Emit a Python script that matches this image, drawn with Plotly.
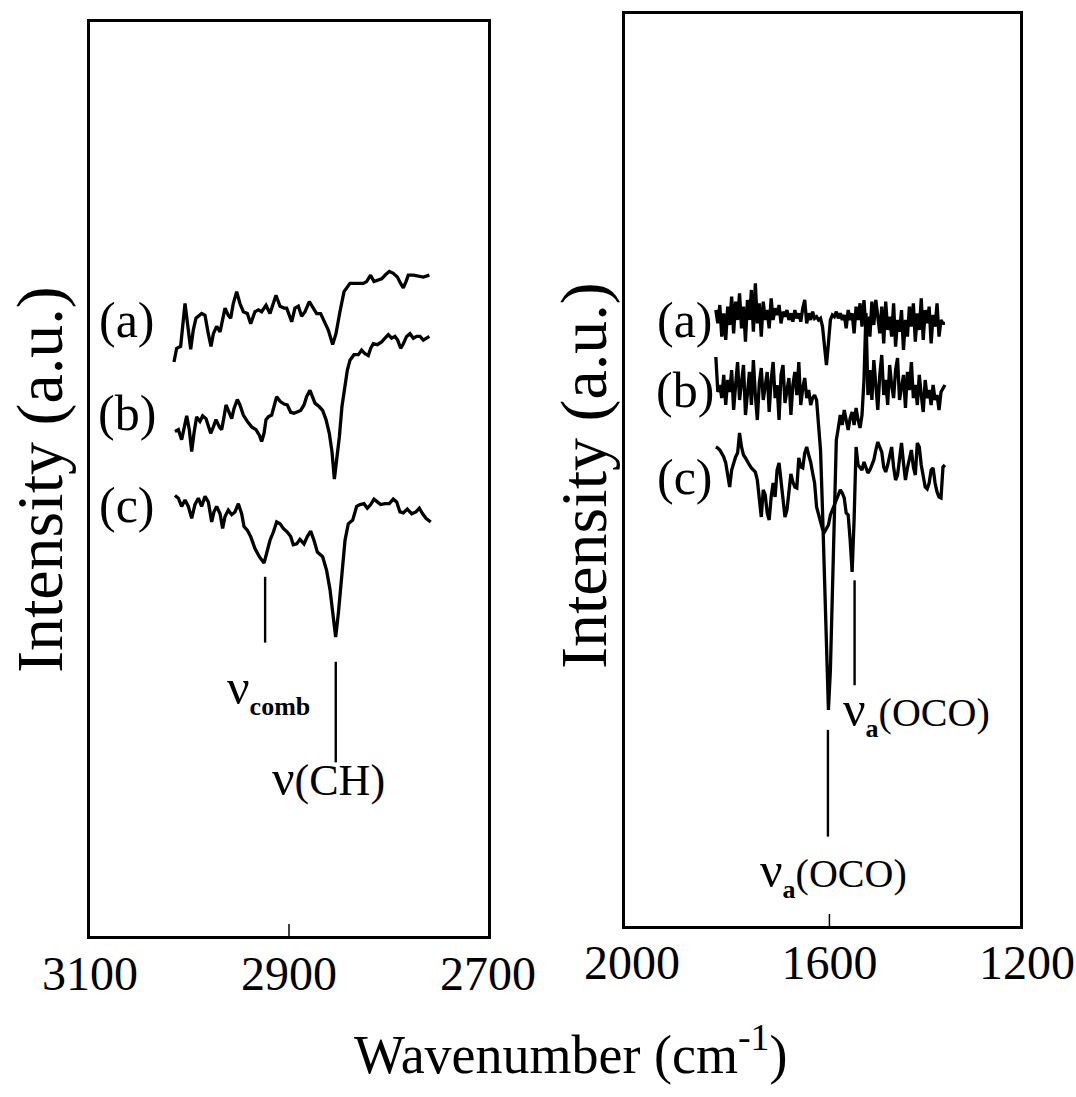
import plotly.graph_objects as go

# ---------------- data ----------------
# Left panel: C-H stretching region, wavenumber (cm-1) vs intensity (a.u.)
wn_left_a = [3015.6, 3012.9, 3008.9, 3004.5, 3001.2, 2998.8, 2996.2, 2993.5, 2987.8, 2984.4,
             2981.1, 2978.4, 2976.0, 2972.7, 2969.3, 2964.3, 2961.0, 2958.6, 2956.0, 2952.6,
             2949.3, 2945.9, 2941.9, 2938.5, 2934.2, 2930.8, 2927.5, 2923.1, 2919.1, 2915.7,
             2913.1, 2909.0, 2905.0, 2902.3, 2897.3, 2894.0, 2890.6, 2887.3, 2883.9, 2879.6,
             2875.5, 2872.2, 2868.2, 2863.8, 2860.5, 2856.1, 2852.8, 2848.8, 2844.7, 2838.7,
             2832.0, 2825.3, 2822.0, 2818.0, 2814.6, 2810.2, 2806.9, 2802.5, 2799.2, 2795.2,
             2791.1, 2787.8, 2785.1, 2782.4, 2780.1, 2775.0, 2770.0, 2765.0, 2758.9]
int_left_a = [62.8, 64.3, 64.5, 69.2, 66.3, 64.2, 66.3, 67.6, 68.1, 67.9,
              65.9, 64.5, 65.9, 66.7, 66.1, 68.7, 67.9, 67.6, 69.2, 70.5,
              69.2, 68.3, 68.1, 67.0, 68.3, 68.5, 68.3, 69.0, 68.1, 69.2,
              70.1, 68.9, 68.7, 68.7, 67.2, 68.7, 68.9, 67.8, 68.3, 69.4,
              68.7, 68.1, 68.1, 67.0, 66.3, 64.7, 65.9, 68.3, 70.5, 71.4,
              71.4, 71.4, 71.6, 72.3, 71.6, 71.8, 71.9, 72.4, 72.7, 72.5,
              72.1, 71.4, 70.9, 71.6, 72.3, 72.3, 72.2, 72.1, 72.3]

wn_left_b = [3014.6, 3011.2, 3007.9, 3005.5, 3002.8, 3000.2, 2997.8, 2995.5, 2992.8, 2989.5,
             2986.8, 2983.4, 2981.1, 2978.7, 2976.0, 2973.4, 2970.0, 2967.7, 2965.3, 2963.3,
             2960.6, 2957.6, 2955.3, 2951.9, 2949.3, 2945.9, 2941.9, 2937.5, 2933.2, 2929.8,
             2927.5, 2925.1, 2923.1, 2920.8, 2917.4, 2915.1, 2912.4, 2909.0, 2905.0, 2901.7,
             2898.3, 2895.0, 2891.6, 2888.3, 2884.9, 2882.3, 2878.9, 2876.2, 2873.9, 2869.5,
             2866.2, 2862.8, 2859.5, 2856.8, 2854.4, 2852.1, 2849.4, 2846.8, 2844.4,
             2841.4, 2838.7, 2834.7, 2830.3, 2827.0, 2823.6, 2820.3, 2817.9, 2815.3, 2811.2,
             2806.9, 2803.5, 2800.2, 2796.8, 2793.5, 2790.8, 2787.8, 2785.1, 2781.8, 2778.4,
             2775.0, 2771.7, 2768.3, 2765.0, 2761.6, 2758.9]
int_left_b = [55.2, 55.4, 54.3, 55.4, 56.9, 55.4, 53.0, 55.0, 56.8, 56.3,
              56.9, 56.6, 55.9, 55.0, 55.7, 56.5, 55.7, 55.4, 56.8, 58.1,
              57.4, 56.6, 57.7, 58.7, 58.1, 57.0, 56.3, 55.7, 55.4, 54.8,
              54.1, 55.0, 56.5, 56.8, 57.0, 57.9, 59.0, 58.5, 58.2, 58.1,
              57.3, 57.2, 57.4, 57.5, 58.1, 59.0, 59.7, 59.0, 58.3, 57.9,
              57.5, 56.5, 55.0, 53.0, 50.0, 52.1, 54.6, 57.9, 59.7,
              61.9, 63.0, 63.6, 63.6, 64.1, 63.7, 63.5, 64.3, 64.8, 64.7,
              65.0, 65.4, 65.8, 65.4, 65.6, 65.2, 64.3, 64.8, 65.6, 65.9,
              65.4, 65.6, 65.6, 65.2, 65.4, 65.6]

wn_left_c = [3014.6, 3011.2, 3007.9, 3004.5, 3001.2, 2997.8, 2994.5, 2991.1, 2987.8, 2984.4,
             2981.1, 2977.7, 2975.4, 2972.7, 2969.3, 2966.7, 2964.3, 2961.0, 2957.6, 2954.3,
             2950.9, 2947.6, 2945.2, 2941.9, 2938.5, 2934.2, 2929.8, 2925.1, 2922.4, 2919.1,
             2915.7, 2912.4, 2909.0, 2905.7, 2901.7, 2898.3, 2895.7, 2892.3, 2889.0, 2884.9,
             2881.6, 2878.2, 2874.9, 2871.5, 2866.2, 2862.2, 2858.8, 2856.1, 2853.1, 2850.4,
             2847.1, 2843.7, 2840.4, 2836.0, 2832.0, 2828.6, 2824.6, 2821.3, 2817.9, 2814.6,
             2811.2, 2807.9, 2803.5, 2799.2, 2795.2, 2791.8, 2788.5, 2785.1, 2781.1, 2776.7,
             2772.4, 2769.0, 2765.7, 2762.3, 2757.6]
int_left_c = [48.2, 47.9, 47.0, 47.7, 47.0, 45.7, 47.2, 47.9, 47.0, 48.1,
              47.5, 45.3, 46.4, 47.0, 46.2, 44.6, 45.9, 46.6, 46.1, 46.4,
              47.3, 46.2, 44.8, 44.4, 43.7, 42.4, 41.5, 40.8, 41.9, 43.3,
              44.2, 45.3, 45.1, 44.6, 44.2, 43.7, 42.8, 42.9, 43.4, 42.9,
              43.7, 44.3, 43.3, 42.0, 41.5, 40.0, 37.9, 35.3, 32.7, 35.3,
              39.7, 43.3, 45.1, 45.5, 47.0, 47.2, 47.3, 46.8, 47.2, 47.8,
              47.5, 47.2, 47.3, 47.3, 47.8, 47.5, 46.4, 46.3, 46.7, 46.2,
              46.4, 46.8, 46.2, 45.7, 45.3]

# Right panel: carboxylate region, common wavenumber grid (cm-1)
wn_right = [1830, 1826, 1822, 1818, 1814, 1810, 1806, 1802, 1798, 1794, 1790, 1786, 1782, 1778,
            1774, 1770, 1766, 1762, 1758, 1754, 1750, 1746, 1742, 1738, 1734, 1730, 1726, 1722,
            1718, 1714, 1710, 1706, 1702, 1698, 1694, 1690, 1686, 1682, 1678, 1674, 1670, 1666,
            1662, 1658, 1654, 1650, 1646, 1642, 1638, 1634, 1630, 1626, 1622, 1618, 1614, 1610,
            1606, 1602, 1598, 1594, 1590, 1586, 1582, 1578, 1574, 1570, 1566, 1562, 1558, 1554,
            1550, 1546, 1542, 1538, 1534, 1530, 1526, 1522, 1518, 1514, 1510, 1506, 1502, 1498,
            1494, 1490, 1486, 1482, 1478, 1474, 1470, 1466, 1462, 1458, 1454, 1450, 1446, 1442,
            1438, 1434, 1430, 1426, 1422, 1418, 1414, 1410, 1406, 1402, 1398, 1394, 1390, 1386,
            1382, 1378, 1374, 1370, 1366]
int_right_a = [67.54, 66.08, 68.09, 64.62, 67.18, 64.26, 67.91, 65.90, 69.01, 64.99,
               68.46, 66.45, 69.37, 65.53, 67.91, 64.07, 68.64, 66.45, 69.74, 65.17,
               70.47, 66.08, 68.28, 64.62, 68.46, 66.45, 67.54, 65.53, 68.82, 66.45,
               67.73, 67.00, 68.09, 66.08, 67.36, 66.81, 67.54, 66.45, 67.18, 66.26,
               67.54, 66.63, 67.18, 66.26, 67.73, 68.64, 66.08, 67.18, 66.45, 67.36,
               66.63, 66.81, 66.45, 66.63, 65.72, 63.52, 61.51, 63.89, 66.45, 67.00,
               66.81, 67.36, 66.63, 67.18, 66.45, 67.00, 65.53, 67.54, 66.45, 67.18,
               64.99, 67.91, 66.45, 68.28, 65.72, 68.64, 65.35, 66.81, 64.62, 68.46,
               65.90, 68.64, 66.81, 64.99, 67.91, 63.89, 68.46, 65.35, 66.81, 64.62,
               68.28, 63.52, 66.45, 65.17, 67.54, 63.16, 66.45, 64.62, 67.91, 65.72,
               68.28, 64.07, 67.18, 65.35, 68.82, 64.26, 67.54, 66.08, 67.91, 63.89,
               67.00, 65.72, 68.28, 64.62, 66.45, 66.08, 66.08]
int_right_b = [62.39, 58.55, 59.32, 57.89, 60.42, 57.13, 59.87, 58.55, 60.96, 56.58,
               59.32, 61.84, 57.68, 60.09, 61.51, 56.03, 58.77, 60.75, 57.13, 62.06,
               58.22, 55.48, 59.54, 61.18, 57.68, 58.99, 60.75, 56.36, 59.87, 61.84,
               57.89, 59.32, 55.48, 60.42, 61.51, 57.35, 58.77, 60.09, 56.03, 59.32,
               60.75, 58.22, 61.84, 57.13, 58.99, 60.09, 57.89, 58.77, 57.13, 57.89,
               58.22, 57.68, 54.93, 52.19, 45.61, 37.94, 29.17, 23.68, 28.07, 36.84,
               46.71, 53.29, 54.61, 56.03, 54.93, 56.58, 55.48, 54.39, 55.70, 56.36,
               54.93, 56.80, 55.48, 54.61, 56.03, 59.87, 67.21, 58.22, 60.96, 57.68,
               62.06, 58.77, 56.58, 60.42, 62.61, 58.22, 59.87, 57.13, 61.51, 59.32,
               57.89, 60.96, 62.28, 57.68, 59.32, 60.42, 56.80, 60.75, 58.77, 61.84,
               57.89, 59.32, 57.13, 60.42, 58.22, 56.36, 59.87, 57.89, 58.77, 57.13,
               59.32, 57.68, 58.22, 56.58, 58.55, 58.99, 59.32]
int_right_c = [52.52, 52.41, 52.19, 51.86, 51.43, 50.77, 49.45, 48.14, 50.00, 50.88,
               51.43, 51.86, 54.06, 52.52, 51.64, 51.32, 50.88, 50.55, 50.22, 50.00,
               49.78, 48.90, 46.71, 44.85, 47.81, 47.26, 45.29, 44.52, 47.04, 48.57,
               47.04, 50.00, 50.77, 48.57, 46.93, 44.85, 45.61, 47.81, 49.56, 48.68,
               48.14, 48.03, 51.32, 50.33, 50.22, 51.86, 52.52, 51.64, 50.88, 49.67,
               48.57, 45.94, 45.07, 44.19, 43.53, 43.20, 43.53, 43.97, 45.07, 45.72,
               46.16, 46.71, 47.26, 47.81, 47.48, 46.93, 45.29, 45.07, 42.32, 38.82,
               44.52, 52.52, 50.55, 50.22, 50.00, 50.88, 50.33, 49.67, 50.00, 50.55,
               51.10, 52.19, 53.07, 52.52, 51.97, 50.33, 49.78, 50.55, 51.64, 52.52,
               50.33, 48.90, 49.45, 51.43, 52.96, 50.77, 48.90, 50.22, 51.32, 52.19,
               50.33, 49.45, 52.96, 52.52, 50.55, 49.23, 48.14, 47.92, 48.57, 50.00,
               50.22, 48.57, 47.59, 47.04, 46.93, 50.33, 50.55]

# Band marker bars: wavenumber, top and bottom intensity
bars_left_wn = [2924.0, 2853.0]
bars_left_top = [39.3, 30.0]
bars_left_bottom = [32.1, 19.0]
bars_right_wn = [1603.0, 1549.0]
bars_right_top = [21.5, 37.9]
bars_right_bottom = [9.8, 26.4]

# Axis ticks
ticks_left = [3100, 2900, 2700]
ticks_right = [2000, 1600, 1200]
inner_tick_left = [2900]
inner_tick_right = [1600]

# Curve labels
curve_labels = ["(a)", "(b)", "(c)"]

# ---------------- figure ----------------
FONT = "Liberation Serif"
fig = go.Figure()

for wn, it in [(wn_left_a, int_left_a), (wn_left_b, int_left_b), (wn_left_c, int_left_c)]:
    fig.add_trace(go.Scatter(x=wn, y=it, mode="lines", line=dict(color="black", width=3.3),
                             xaxis="x", yaxis="y", showlegend=False, hoverinfo="skip"))
for it in [int_right_a, int_right_b, int_right_c]:
    fig.add_trace(go.Scatter(x=wn_right, y=it, mode="lines", line=dict(color="black", width=3.3),
                             xaxis="x2", yaxis="y2", showlegend=False, hoverinfo="skip"))

for w, t, b in zip(bars_left_wn, bars_left_top, bars_left_bottom):
    fig.add_trace(go.Scatter(x=[w, w], y=[t, b], mode="lines", line=dict(color="black", width=2.4),
                             xaxis="x", yaxis="y", showlegend=False, hoverinfo="skip"))
for w, t, b in zip(bars_right_wn, bars_right_top, bars_right_bottom):
    fig.add_trace(go.Scatter(x=[w, w], y=[t, b], mode="lines", line=dict(color="black", width=2.4),
                             xaxis="x2", yaxis="y2", showlegend=False, hoverinfo="skip"))

# empty trace so the right-panel label axis (x3) is created
fig.add_trace(go.Scatter(x=[], y=[], xaxis="x3", yaxis="y2", showlegend=False, hoverinfo="skip"))

W, H = 1076, 1097
tick_font = dict(family=FONT, size=48, color="black")
common_x = dict(showgrid=False, zeroline=False, showline=True, linecolor="black", linewidth=2.5,
                mirror=True, ticks="", automargin=False, ticklabeloverflow="allow",
                tickfont=tick_font)
common_y = dict(showgrid=False, zeroline=False, showline=True, linecolor="black", linewidth=2.5,
                mirror=True, ticks="", showticklabels=False, automargin=False, range=[0, 100])

fig.update_layout(
    width=W, height=H, margin=dict(l=0, r=0, t=0, b=0),
    paper_bgcolor="white", plot_bgcolor="rgba(0,0,0,0)", template="none", showlegend=False,
    xaxis=dict(common_x, domain=[90 / W, 488 / W], range=[3100, 2700], anchor="y",
               tickvals=ticks_left, ticktext=[str(v) for v in ticks_left], ticklabelstandoff=-6),
    yaxis=dict(common_y, domain=[1 - 936 / H, 1 - 22 / H], anchor="x"),
    xaxis2=dict(common_x, domain=[625 / W, 1020 / W], range=[2014, 1214], anchor="y2",
                showticklabels=False),
    yaxis2=dict(common_y, domain=[1 - 926 / H, 1 - 14 / H], anchor="x2"),
    # label-only axis for the right panel (same scale, slightly wider so 1200 fits)
    xaxis3=dict(showgrid=False, zeroline=False, showline=False, ticks="", automargin=False,
                ticklabeloverflow="allow", tickfont=tick_font,
                domain=[625 / W, 1030 / W], range=[2014, 2014 - 405 * 800 / 395], anchor="y2",
                tickvals=ticks_right, ticktext=[str(v) for v in ticks_right], ticklabelstandoff=4),
)

shapes = []
for v in inner_tick_left:
    shapes.append(dict(type="line", xref="x", yref="y domain", x0=v, x1=v, y0=0, y1=12 / 914,
                       line=dict(color="black", width=1.5)))
for v in inner_tick_right:
    shapes.append(dict(type="line", xref="x2", yref="y2 domain", x0=v, x1=v, y0=0, y1=12 / 912,
                       line=dict(color="black", width=1.5)))
fig.update_layout(shapes=shapes)

ann = []
base = dict(showarrow=False, xanchor="center", yanchor="middle")
lab_font = dict(family=FONT, size=50, color="black")
for lab, y in zip(curve_labels, [67.4, 57.2, 47.2]):
    ann.append(dict(base, x=3062.8, y=y, xref="x", yref="y", text=lab, font=lab_font))
for lab, y in zip(curve_labels, [66.4, 58.8, 49.2]):
    ann.append(dict(base, x=1892.5, y=y, xref="x2", yref="y2", text=lab, font=lab_font))

nu_font = dict(family=FONT, size=50, color="black")
ann.append(dict(base, x=2921.0, y=26.9, xref="x", yref="y", font=nu_font,
                text="ν<sub><b><span style='font-size:26px'>comb</span></b></sub>"))
ann.append(dict(base, x=2860.0, y=17.3, xref="x", yref="y", font=nu_font,
                text="ν<span style='font-size:44px'>(CH)</span>"))
ann.append(dict(base, x=1424.6, y=23.5, xref="x2", yref="y2", font=nu_font,
                text="ν<sub><b><span style='font-size:26px'>a</span></b></sub><span style='font-size:40px'>(OCO)</span>"))
ann.append(dict(base, x=1592.0, y=5.8, xref="x2", yref="y2", font=nu_font,
                text="ν<sub><b><span style='font-size:26px'>a</span></b></sub><span style='font-size:40px'>(OCO)</span>"))

title_font = dict(family=FONT, size=66, color="black")
ann.append(dict(base, x=40 / W, y=1 - 480 / H, xref="paper", yref="paper", text="Intensity (a.u.)",
                textangle=-90, font=title_font))
ann.append(dict(base, x=584 / W, y=1 - 476 / H, xref="paper", yref="paper", text="Intensity (a.u.)",
                textangle=-90, font=title_font))
ann.append(dict(base, x=570 / W, y=1 - 1050 / H, xref="paper", yref="paper",
                text="Wavenumber (cm<sup>-1</sup>)", font=dict(family=FONT, size=54, color="black")))
fig.update_layout(annotations=ann)

fig.write_html("out.html", config={"displayModeBar": False},
               post_script="document.body.style.margin='0px';document.body.style.overflow='hidden';")
